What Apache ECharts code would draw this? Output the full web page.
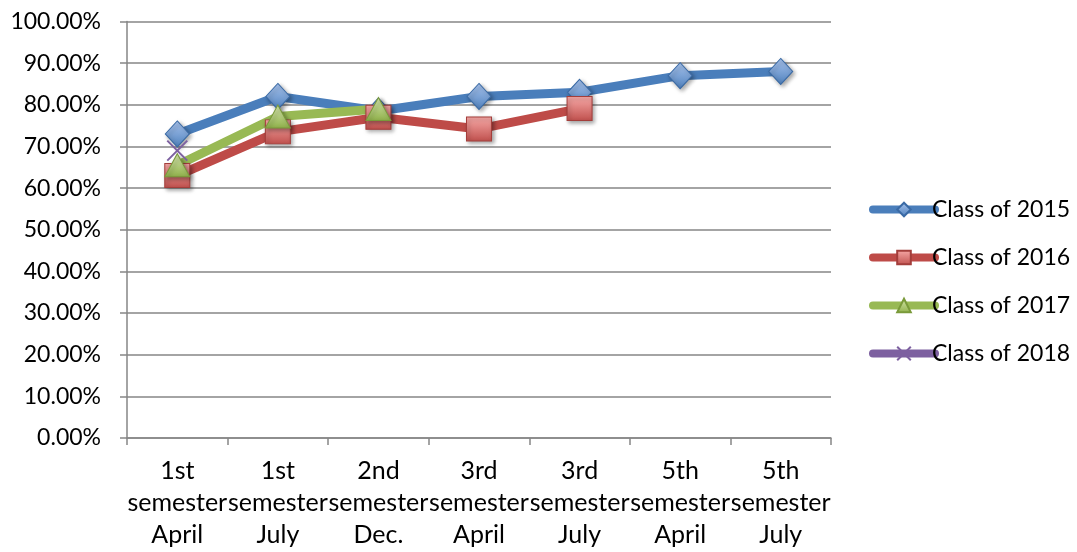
<!DOCTYPE html>
<html>
<head>
<meta charset="utf-8">
<script src="https://cdn.jsdelivr.net/npm/echarts@6/dist/echarts.min.js"></script>
<style>
  html, body { margin: 0; padding: 0; background: #fff; }
  #chart { width: 1077px; height: 552px; }
</style>
</head>
<body>
<div id="chart"></div>
<script>
const categories = [
    '1st\nsemester\nApril', '1st\nsemester\nJuly', '2nd\nsemester\nDec.',
    '3rd\nsemester\nApril', '3rd\nsemester\nJuly', '5th\nsemester\nApril', '5th\nsemester\nJuly'
];
const class2015 = [73, 82, 78.5, 82, 83, 87, 88];
const class2016 = [63, 73.5, 77, 74.2, 79.1, null, null];
const class2017 = [65.5, 77.2, 79, null, null, null, null];
const class2018 = [69, null, null, null, null, null, null];

const FONT = 'Lato';

const grad = (top, bottom) => new echarts.graphic.LinearGradient(0, 0, 0, 1, [
    { offset: 0, color: top },
    { offset: 1, color: bottom }
]);

const makeSeries = (name, data, color, symbol, size, fill, border) => ({
    name: name,
    type: 'line',
    data: data,
    symbol: symbol,
    symbolSize: size,
    showAllSymbol: true,
    connectNulls: false,
    lineStyle: { color: color, width: 9, cap: 'round', join: 'round' },
    itemStyle: {
        color: fill,
        borderColor: border,
        borderWidth: 1,
        shadowBlur: 4,
        shadowOffsetX: 2,
        shadowOffsetY: 2,
        shadowColor: 'rgba(0,0,0,0.35)'
    },
    emphasis: { disabled: true }
});

const chart = echarts.init(document.getElementById('chart'));
window.onresize = () => { chart.resize(); };

chart.setOption({
    animation: false,
    textStyle: { fontFamily: FONT },
    grid: { left: 127, right: 246, top: 21.5, bottom: 114, outerBoundsMode: 'none' },
    legend: {
        orient: 'vertical',
        left: 864,
        top: 193,
        itemWidth: 62,
        itemHeight: 17,
        itemGap: 25,
        lineStyle: { width: 8, cap: 'round' },
        textStyle: { fontFamily: FONT, fontSize: 23, color: '#000', padding: [0, 0, 0, -8] },
        data: ['Class of 2015', 'Class of 2016', 'Class of 2017', 'Class of 2018']
    },
    xAxis: {
        type: 'category',
        data: categories,
        boundaryGap: true,
        axisLine: { lineStyle: { color: '#868686', width: 1.5 } },
        axisTick: { show: true, length: 7, lineStyle: { color: '#868686', width: 1.5 } },
        axisLabel: {
            interval: 0,
            margin: 17,
            fontFamily: FONT,
            fontSize: 25,
            lineHeight: 32,
            color: '#000'
        },
        splitLine: { show: false }
    },
    yAxis: {
        type: 'value',
        min: 0,
        max: 100,
        interval: 10,
        axisLine: { show: true, lineStyle: { color: '#868686', width: 1.5 } },
        axisTick: { show: true, length: 7, lineStyle: { color: '#868686', width: 1.5 } },
        axisLabel: {
            margin: 26,
            fontFamily: FONT,
            fontSize: 23,
            color: '#000',
            formatter: (v) => v.toFixed(2) + '%'
        },
        splitLine: { lineStyle: { color: '#868686', width: 1.5 } }
    },
    series: [
        makeSeries('Class of 2015', class2015, '#4A7EBB', 'diamond', [24, 26], grad('#a9c4ee', '#4f81bd'), '#3a6aa5'),
        makeSeries('Class of 2016', class2016, '#BE4B48', 'rect', [25, 24], grad('#f7aaa8', '#c0504d'), '#a33e3b'),
        makeSeries('Class of 2017', class2017, '#98B954', 'triangle', [25, 23], grad('#d8e8b0', '#8fb04a'), '#7a9a3a'),
        {
            name: 'Class of 2018',
            type: 'line',
            data: class2018,
            symbol: 'path://M0,0 L10,10 M10,0 L0,10',
            symbolSize: 20,
            lineStyle: { color: '#7D60A0', width: 9, cap: 'round' },
            itemStyle: { color: 'none', borderColor: '#7D60A0', borderWidth: 2 },
            emphasis: { disabled: true }
        }
    ]
});
</script>
</body>
</html>
